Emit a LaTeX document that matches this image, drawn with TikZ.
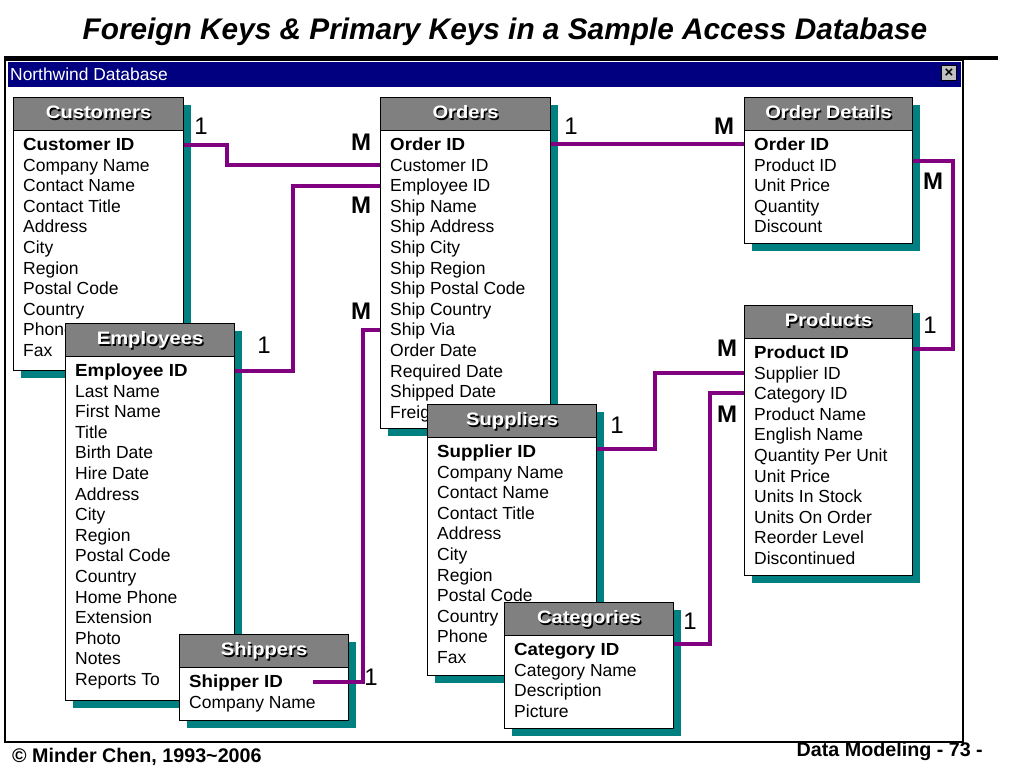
\documentclass[tikz,border=0pt]{standalone}
\usepackage{fontspec}
\setmainfont{Liberation Sans}
\usetikzlibrary{calc}
\definecolor{navy}{HTML}{000080}
\definecolor{hdrgray}{HTML}{808080}
\definecolor{shadowteal}{HTML}{008080}
\definecolor{relpurple}{HTML}{800080}
\definecolor{btngray}{HTML}{C0C0C0}

\newcommand{\hdrtext}[1]{\scalebox{1.12}[1]{\rlap{\kern1.3pt\raisebox{-1.3pt}{\color{black}#1}}\textcolor{white}{#1}}}
\newcommand{\pk}[1]{\scalebox{1.07}[1]{\bfseries #1}}

\tikzset{
  tblhead/.style={draw=black, fill=hdrgray, line width=1.2pt, inner sep=0pt, minimum height=33,
    text height=13, text depth=3.5, font=\fontsize{18}{20}\selectfont\bfseries},
  tblbody/.style={draw=black, fill=white, line width=1.2pt, inner sep=0pt},
  item/.style={anchor=base west, inner sep=0pt, font=\fontsize{17.5}{20}\selectfont},
  rel/.style={draw=relpurple, line width=4pt},
  card/.style={inner sep=0pt, font=\fontsize{24}{24}\selectfont},
  cardM/.style={card, font=\fontsize{24}{24}\selectfont\bfseries},
}

\newcommand{\dbtable}[7]{%
  \fill[shadowteal] (#2+8,#3+8) rectangle (#2+#4+8,#5+8);
  \node[tblhead, minimum width=#4, anchor=north west] (#1-h) at (#2,#3) {\hdrtext{#6}};
  \node[tblbody, minimum width=#4, minimum height=#5-#3-33, anchor=north west] (#1-b) at (#2,#3+33) {};
  \foreach \t [count=\i] in {#7} {
    \node[item] (#1-\i) at (#2+10,#3+53.5+\i*20.6-20.6) {\t};
  }
}

\begin{document}
\begin{tikzpicture}[x=1pt,y=-1pt]
\useasboundingbox (0,0) rectangle (1024,768);
\fill[white] (0,0) rectangle (1024,768);

% slide title
\node[font=\fontsize{29.8}{32}\selectfont\bfseries\itshape] (title) at (505,32)
  {Foreign Keys \& Primary Keys in a Sample Access Database};

% window
\draw[line width=3pt] (4,58) -- (998,58);
\draw[line width=1.2pt] (5,60) rectangle (963,742);
\fill[navy] (8,62) rectangle (961,87);
\node[anchor=west, text=white, inner sep=0pt, font=\fontsize{17.4}{18}\selectfont] (wintitle) at (10,74) {Northwind Database};
\node[draw=black, fill=btngray, minimum size=15, inner sep=0pt, font=\fontsize{15}{15}\selectfont\bfseries] (closebtn) at (949,73) {×};

% tables
\dbtable{cust}{13}{97}{170}{370}{Customers}{\pk{Customer ID},Company Name,Contact Name,Contact Title,Address,City,Region,Postal Code,Country,Phone,Fax}
\dbtable{emp}{65}{323}{169}{700}{Employees}{\pk{Employee ID},Last Name,First Name,Title,Birth Date,Hire Date,Address,City,Region,Postal Code,Country,Home Phone,Extension,Photo,Notes,Reports To}
\dbtable{ship}{179}{634}{169}{720}{Shippers}{\pk{Shipper ID},Company Name}
\dbtable{ord}{380}{97}{170}{428}{Orders}{\pk{Order ID},Customer ID,Employee ID,Ship Name,Ship Address,Ship City,Ship Region,Ship Postal Code,Ship Country,Ship Via,Order Date,Required Date,Shipped Date,Freight}
\dbtable{sup}{427}{404}{169}{675}{Suppliers}{\pk{Supplier ID},Company Name,Contact Name,Contact Title,Address,City,Region,Postal Code,Country,Phone,Fax}
\dbtable{cat}{504}{602}{169}{728}{Categories}{\pk{Category ID},Category Name,Description,Picture}
\dbtable{od}{744}{97}{168}{243}{Order Details}{\pk{Order ID},Product ID,Unit Price,Quantity,Discount}
\dbtable{prod}{744}{305}{168}{575}{Products}{\pk{Product ID},Supplier ID,Category ID,Product Name,English Name,Quantity Per Unit,Unit Price,Units In Stock,Units On Order,Reorder Level,Discontinued}

% relationships (row centre is 6 above each row's baseline)
\draw[rel] ($(cust-1.base -| cust-b.east)+(0,-6)$) -- ++(43,0) |- ($(ord-2.base -| ord-b.west)+(0,-6)$);
\draw[rel] ($(emp-1.base -| emp-b.east)+(0,-6)$) -- ++(58,0) |- ($(ord-3.base -| ord-b.west)+(0,-6)$);
\draw[rel] ($(ship-1.base -| ship-b.east)+(-36,-6)$) -- ++(50,0) |- ($(ord-10.base -| ord-b.west)+(0,-6)$);
\draw[rel] ($(ord-1.base -| ord-b.east)+(0,-7)$) -- ($(od-1.base -| od-b.west)+(0,-7)$);
\draw[rel] ($(od-2.base -| od-b.east)+(0,-10)$) -- ++(40,0) |- ($(prod-1.base -| prod-b.east)+(0,-9.5)$);
\draw[rel] ($(sup-1.base -| sup-b.east)+(0,-8.5)$) -- ++(58,0) |- ($(prod-2.base -| prod-b.west)+(0,-6)$);
\draw[rel] ($(cat-1.base -| cat-b.east)+(0,-11.5)$) -- ++(36,0) |- ($(prod-3.base -| prod-b.west)+(0,-6.5)$);

% cardinalities
\node[card]  (c1a) at (201,126) {1};
\node[cardM] (c1b) at (361,142) {M};
\node[card]  (c2a) at (264,345) {1};
\node[cardM] (c2b) at (361,205) {M};
\node[cardM] (c3b) at (361,311) {M};
\node[card]  (c3a) at (371,677) {1};
\node[card]  (c4a) at (571,126) {1};
\node[cardM] (c4b) at (724,126) {M};
\node[cardM] (c5b) at (933,181) {M};
\node[card]  (c5a) at (930,325) {1};
\node[card]  (c6a) at (617,425) {1};
\node[cardM] (c6b) at (727,348) {M};
\node[card]  (c7a) at (690,621) {1};
\node[cardM] (c7b) at (727,414) {M};

% footer
\node[anchor=west, inner sep=0pt, font=\fontsize{19.7}{20}\selectfont\bfseries] (foot1) at (12,757) {© Minder Chen, 1993\textasciitilde 2006};
\node[anchor=east, inner sep=0pt, font=\fontsize{19.7}{20}\selectfont\bfseries] (foot2) at (983,751) {Data Modeling - 73 -};
\end{tikzpicture}
\end{document}
